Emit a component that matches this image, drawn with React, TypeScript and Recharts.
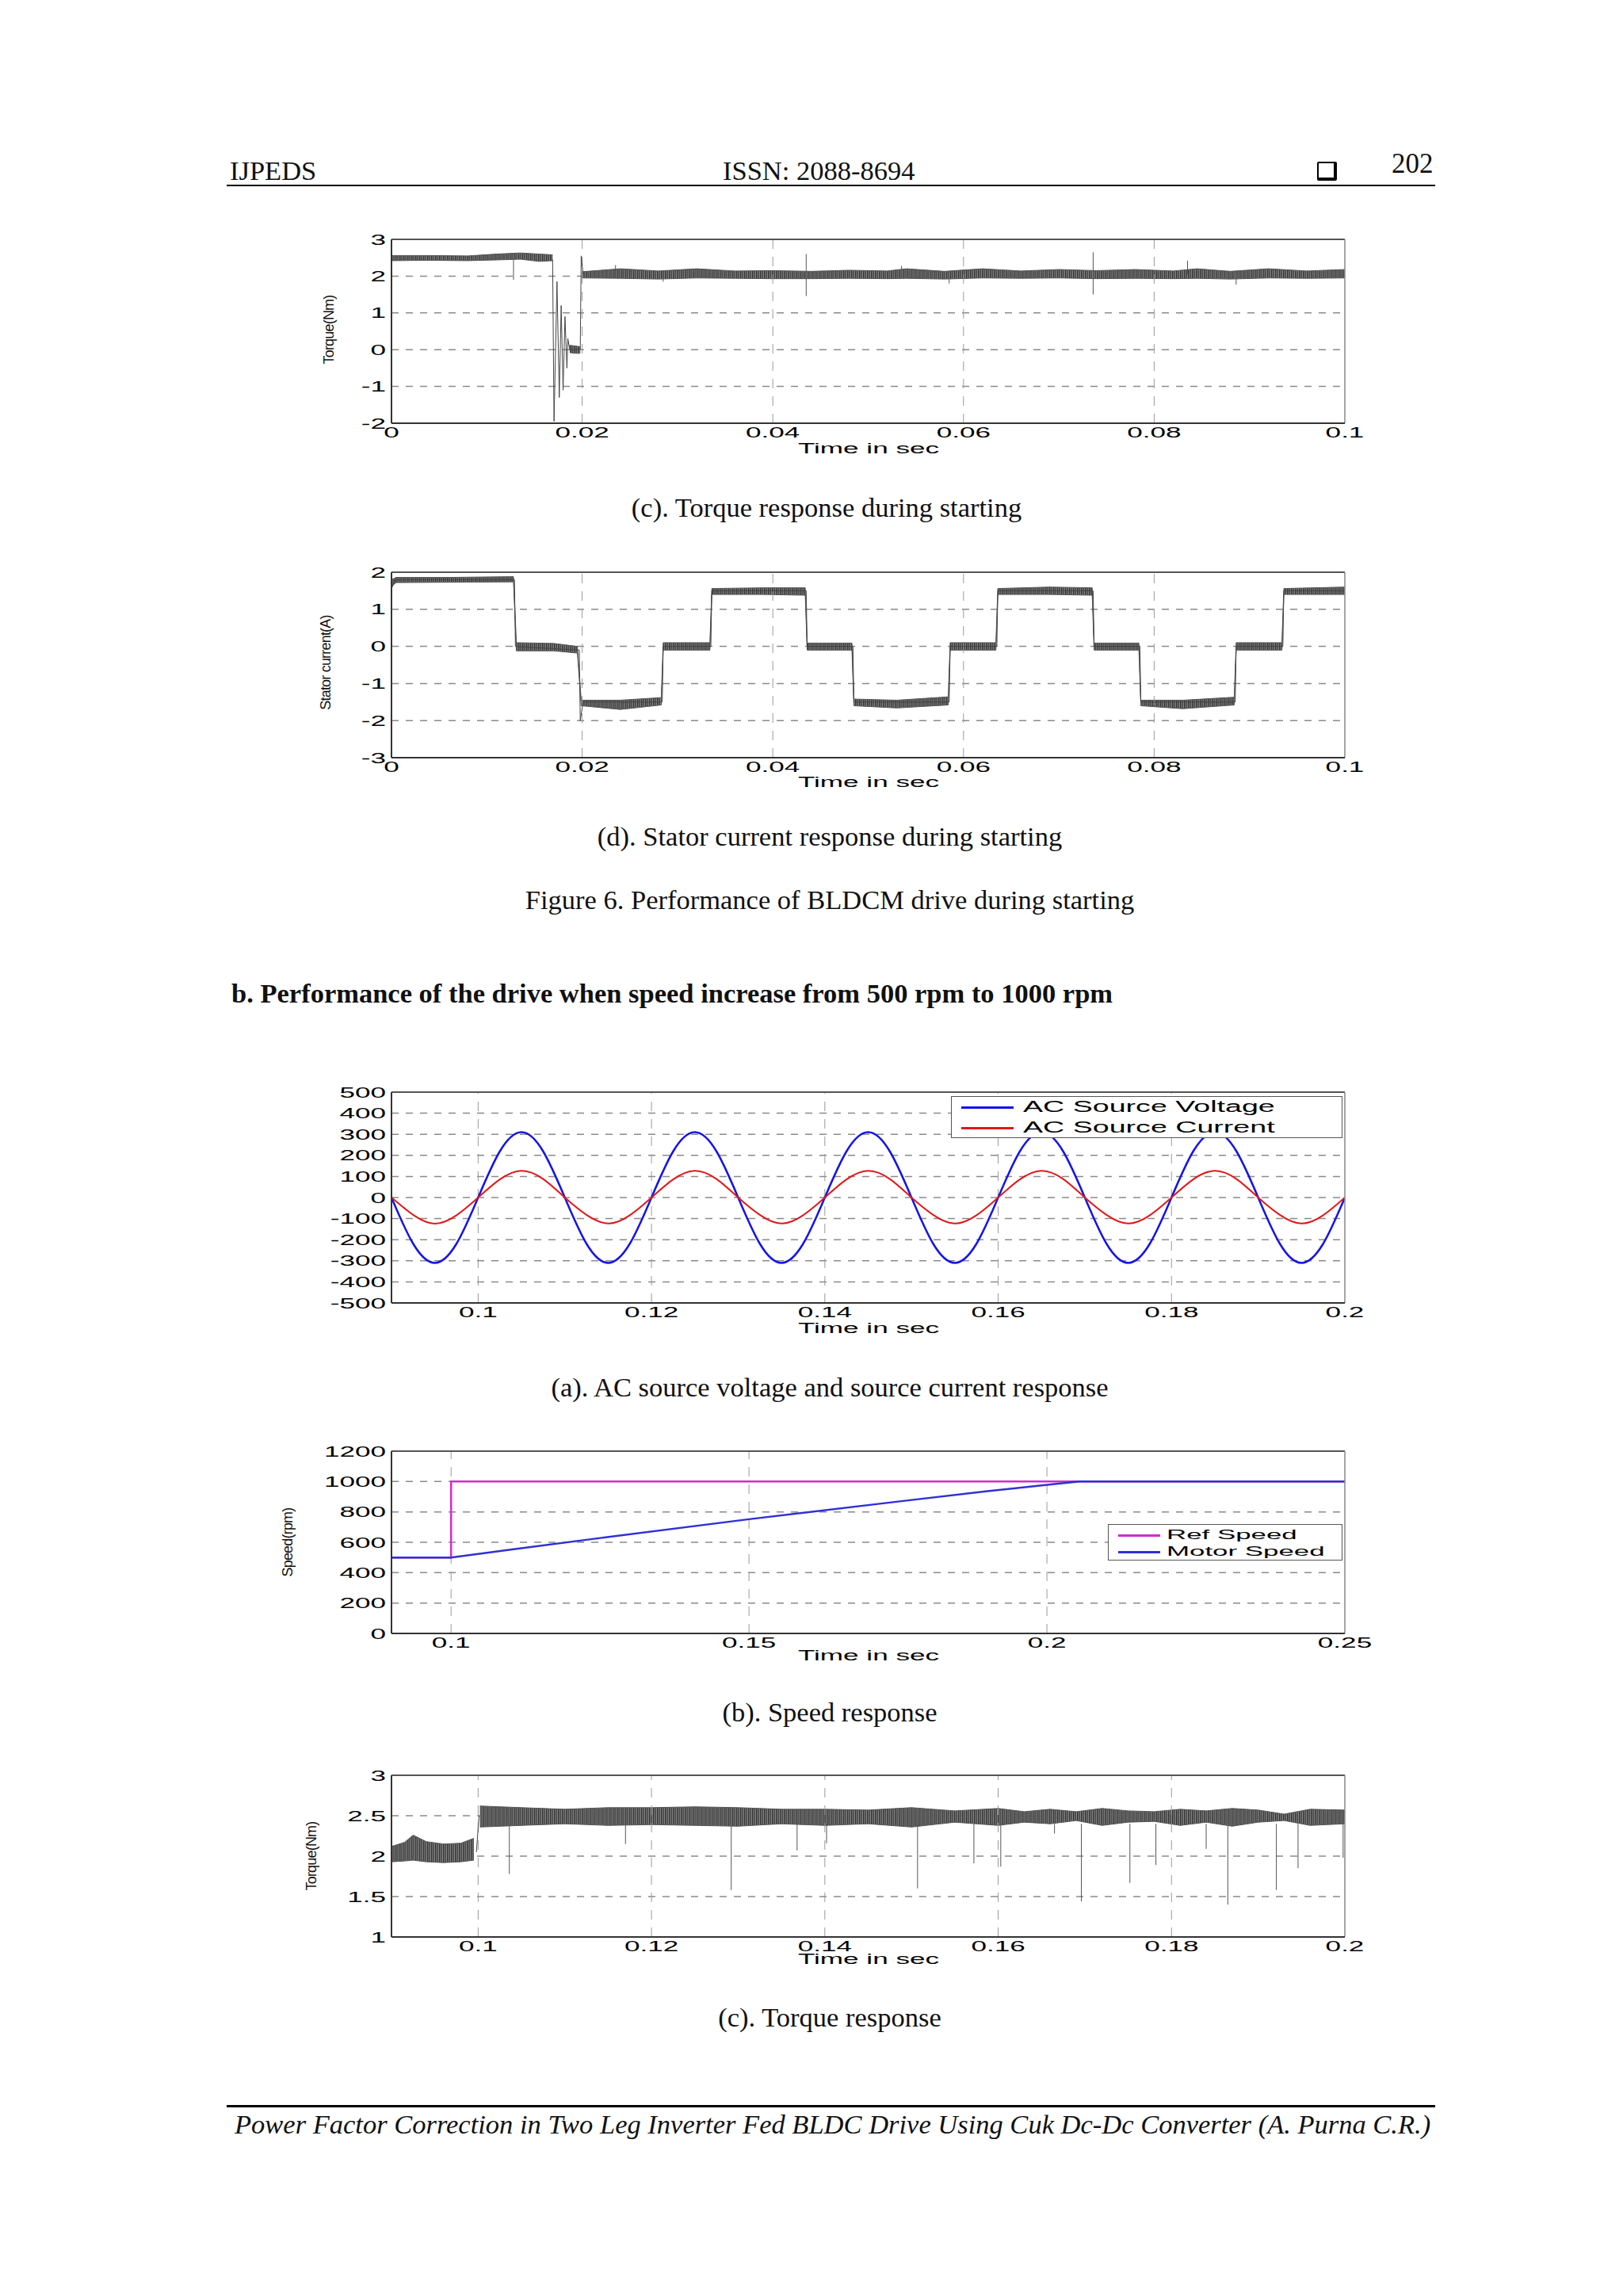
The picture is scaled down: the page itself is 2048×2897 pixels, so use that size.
import React from "react";
import { ComposedChart, Line, Area, XAxis, YAxis, CartesianGrid, ReferenceLine } from "recharts";

// ---------- Fig 6(c): torque during starting ----------
const tqStartXTicks = [0, 0.02, 0.04, 0.06, 0.08, 0.1];
const tqStartYTicks = [-2, -1, 0, 1, 2, 3];
// [t, low, high] of the switching-ripple band
const tqStartBandA = [[0, 2.42, 2.56], [0.004, 2.43, 2.56], [0.008, 2.42, 2.55], [0.011, 2.44, 2.6], [0.0135, 2.46, 2.63], [0.0155, 2.4, 2.6], [0.0169, 2.42, 2.58]];
const tqStartBandB = [[0.0187, -0.08, 0.12], [0.0193, -0.1, 0.1], [0.0198, -0.1, 0.08]];
const tqStartBandC = [
  [0.02, 1.95, 2.12], [0.024, 1.94, 2.2], [0.028, 1.92, 2.14], [0.032, 1.95, 2.2], [0.036, 1.94, 2.14],
  [0.04, 1.93, 2.15], [0.044, 1.93, 2.13], [0.048, 1.94, 2.16], [0.052, 1.93, 2.14], [0.054, 1.94, 2.2],
  [0.058, 1.92, 2.13], [0.062, 1.95, 2.2], [0.066, 1.94, 2.14], [0.07, 1.95, 2.18], [0.074, 1.93, 2.15],
  [0.078, 1.94, 2.18], [0.082, 1.93, 2.14], [0.0845, 1.94, 2.2], [0.088, 1.92, 2.13], [0.092, 1.95, 2.2],
  [0.096, 1.94, 2.14], [0.1, 1.95, 2.18],
];
const tqStartTransient = [
  [0.0169, 2.45], [0.01705, -1.95], [0.01736, 1.85], [0.0176, -1.3], [0.0178, 1.2], [0.018, -1.1],
  [0.0182, 0.9], [0.0184, -0.5], [0.0185, 0.3], [0.0187, 0.0], [0.0198, 0.0], [0.0199, 2.55], [0.0201, 2.05],
];
// [t, from, to]
const tqStartSpikes = [[0.0128, 2.45, 1.9], [0.0235, 2.1, 2.3], [0.0285, 2.0, 1.85], [0.0435, 1.46, 2.6], [0.0535, 2.05, 2.28], [0.0585, 2.0, 1.8], [0.0736, 1.5, 2.65], [0.0835, 2.05, 2.42], [0.0886, 1.77, 2.1]];

// ---------- Fig 6(d): stator current ----------
const statorXTicks = [0, 0.02, 0.04, 0.06, 0.08, 0.1];
const statorYTicks = [-3, -2, -1, 0, 1, 2];
const statorBand = [
  [0, 1.62, 1.8], [0.0005, 1.72, 1.86], [0.006, 1.73, 1.86], [0.0128, 1.74, 1.88],
  [0.0131, -0.12, 0.1], [0.017, -0.12, 0.08], [0.0195, -0.18, 0.0],
  [0.0199, -1.6, -1.45], [0.024, -1.7, -1.45], [0.0283, -1.58, -1.38],
  [0.0285, -0.1, 0.1], [0.0334, -0.1, 0.1],
  [0.0336, 1.4, 1.56], [0.039, 1.4, 1.58], [0.0434, 1.38, 1.58],
  [0.0436, -0.1, 0.09], [0.0483, -0.1, 0.09],
  [0.0485, -1.6, -1.42], [0.053, -1.66, -1.45], [0.0584, -1.58, -1.36],
  [0.0586, -0.1, 0.1], [0.0634, -0.1, 0.1],
  [0.0636, 1.4, 1.56], [0.069, 1.4, 1.6], [0.0735, 1.38, 1.58],
  [0.0737, -0.1, 0.09], [0.0784, -0.1, 0.09],
  [0.0786, -1.6, -1.45], [0.083, -1.68, -1.45], [0.0884, -1.58, -1.37],
  [0.0886, -0.1, 0.1], [0.0934, -0.1, 0.1],
  [0.0936, 1.4, 1.56], [0.1, 1.4, 1.6],
];
const statorTrace = [
  [0, 1.55], [0.0004, 1.8], [0.0129, 1.8], [0.013, 0], [0.0197, -0.1], [0.0198, -2.0], [0.0201, -1.5],
  [0.0284, -1.5], [0.0285, 0], [0.0335, 0], [0.0336, 1.5], [0.0435, 1.5], [0.0436, 0], [0.0484, 0],
  [0.0485, -1.5], [0.0585, -1.5], [0.0586, 0], [0.0635, 0], [0.0636, 1.5], [0.0736, 1.5], [0.0737, 0],
  [0.0785, 0], [0.0786, -1.5], [0.0885, -1.5], [0.0886, 0], [0.0935, 0], [0.0936, 1.5], [0.1, 1.5],
];

// ---------- (a): AC source voltage / current ----------
const acXTicks = [0.1, 0.12, 0.14, 0.16, 0.18, 0.2];
const acYTicks = [-500, -400, -300, -200, -100, 0, 100, 200, 300, 400, 500];
const acTime = [
  0.09, 0.0925, 0.095, 0.0975, 0.1, 0.1025, 0.105, 0.1075, 0.11, 0.1125, 0.115, 0.1175,
  0.12, 0.1225, 0.125, 0.1275, 0.13, 0.1325, 0.135, 0.1375, 0.14, 0.1425, 0.145, 0.1475,
  0.15, 0.1525, 0.155, 0.1575, 0.16, 0.1625, 0.165, 0.1675, 0.17, 0.1725, 0.175, 0.1775,
  0.18, 0.1825, 0.185, 0.1875, 0.19, 0.1925, 0.195, 0.1975, 0.2,
];
const acVoltage = [
  0, -219, -310, -219, 0, 219, 310, 219, 0, -219, -310, -219,
  0, 219, 310, 219, 0, -219, -310, -219, 0, 219, 310, 219,
  0, -219, -310, -219, 0, 219, 310, 219, 0, -219, -310, -219,
  0, 219, 310, 219, 0, -219, -310, -219, 0,
];
const acCurrent = [
  0, -82, -124, -84, 0, 86, 127, 88, 0, -82, -123, -84,
  0, 86, 127, 88, 0, -82, -123, -84, 0, 86, 127, 88,
  0, -82, -123, -84, 0, 86, 127, 88, 0, -82, -123, -84,
  0, 86, 127, 88, 0, -82, -123, -84, 0,
];
const acNames = ["AC Source Voltage", "AC Source Current"];
const acColors = ["#1414e6", "#e01818"];

// ---------- (b): speed ----------
const spXTicks = [0.1, 0.15, 0.2, 0.25];
const spYTicks = [0, 200, 400, 600, 800, 1000, 1200];
const refSpeed = [[0.09, 500], [0.1, 500], [0.1, 1000], [0.25, 1000]];
const motorSpeed = [[0.09, 500], [0.1, 500], [0.11, 552], [0.125, 628], [0.15, 752], [0.175, 868], [0.19, 936], [0.2, 978], [0.2055, 1000], [0.25, 1000]];
const spNames = ["Ref Speed", "Motor Speed"];
const spColors = ["#d02cd0", "#3030d6"];

// ---------- (c): torque ----------
const tqXTicks = [0.1, 0.12, 0.14, 0.16, 0.18, 0.2];
const tqYTicks = [1, 1.5, 2, 2.5, 3];
const tqBandA = [[0.09, 1.93, 2.12], [0.0915, 1.94, 2.17], [0.0925, 1.95, 2.26], [0.094, 1.93, 2.18], [0.096, 1.92, 2.15], [0.098, 1.93, 2.16], [0.0995, 1.95, 2.22]];
const tqBandB = [
  [0.1002, 2.36, 2.62], [0.105, 2.38, 2.6], [0.11, 2.4, 2.58], [0.115, 2.38, 2.6], [0.12, 2.39, 2.6],
  [0.125, 2.38, 2.61], [0.13, 2.37, 2.6], [0.135, 2.4, 2.58], [0.14, 2.38, 2.58], [0.145, 2.4, 2.57],
  [0.15, 2.36, 2.6], [0.155, 2.42, 2.56], [0.16, 2.38, 2.59], [0.163, 2.42, 2.55], [0.166, 2.4, 2.58],
  [0.169, 2.44, 2.55], [0.172, 2.38, 2.59], [0.175, 2.42, 2.56], [0.178, 2.43, 2.55], [0.181, 2.38, 2.58],
  [0.184, 2.42, 2.56], [0.187, 2.37, 2.59], [0.19, 2.42, 2.57], [0.193, 2.44, 2.52], [0.196, 2.38, 2.58],
  [0.2, 2.4, 2.57],
];
const tqStep = [[0.0998, 2.05], [0.1001, 2.5]];
const tqSpikes = [
  [0.1036, 2.4, 1.78], [0.117, 2.4, 2.15], [0.1292, 2.4, 1.58], [0.1368, 2.4, 2.07], [0.1402, 2.4, 2.16],
  [0.1507, 2.4, 1.6], [0.1572, 2.4, 1.91], [0.1603, 2.4, 1.87], [0.1665, 2.4, 2.28], [0.1696, 2.4, 1.44],
  [0.1752, 2.4, 1.67], [0.1782, 2.4, 1.89], [0.184, 2.4, 2.09], [0.1865, 2.4, 1.4], [0.1921, 2.4, 1.58],
  [0.1946, 2.4, 1.85], [0.1998, 2.4, 1.98],
];

const SANS = "'Liberation Sans', Arial, Helvetica, sans-serif";
const SERIF = "'Liberation Serif', 'Times New Roman', serif";
const STRETCH = 1.95;
const PAGE_FONT = 34.5;

const band = (rows: number[][]) => rows.map(([t, lo, hi]) => ({ t, r: [lo, hi] }));
const pts = (rows: number[][]) => rows.map(([t, v]) => ({ t, v }));
const spikes = (rows: number[][]) => rows.flatMap(([t, a, b]) => [{ t, v: a }, { t, v: b }, { t, v: null }]);

const XTick = (p: any) => (
  <g transform={`translate(${p.x},${p.y + 18}) scale(${STRETCH},1)`}>
    <text x={0} y={0} textAnchor="middle" fontFamily={SANS} fontSize={18} fill="#000">{String(p.payload.value)}</text>
  </g>
);
const YTick = (p: any) => (
  <g transform={`translate(${p.x - 7},${p.y + 6.5}) scale(${STRETCH},1)`}>
    <text x={0} y={0} textAnchor="end" fontFamily={SANS} fontSize={18} fill="#000">{String(p.payload.value)}</text>
  </g>
);

function Plot({ left, top, w, h, xDomain, xTicks, yDomain, yTicks, children }: any) {
  const ML = 100, MT = 20;
  return (
    <div style={{ position: "absolute", left: left - ML, top: top - MT }}>
      <ComposedChart width={w + ML + 40} height={h + MT + 50} margin={{ top: MT, right: 40, bottom: 0, left: 0 }}>
        <defs>
          <pattern id="hatch" width="2.5" height="8" patternUnits="userSpaceOnUse">
            <rect width="2.5" height="8" fill="#8c8c8c" />
            <rect width="1.3" height="8" fill="#2e2e2e" />
          </pattern>
        </defs>
        <CartesianGrid vertical={false} stroke="#8a8a8a" strokeWidth={1.5} strokeDasharray="9 9" />
        {xTicks.filter((v: number) => v > xDomain[0] && v < xDomain[1]).map((v: number) => (
          <ReferenceLine key={v} x={v} stroke="#9a9a9a" strokeWidth={1} strokeDasharray="12 10" />
        ))}
        <XAxis type="number" dataKey="t" domain={xDomain} ticks={xTicks} allowDataOverflow height={50} interval={0}
          tickLine={false} tickSize={0} tickMargin={0} axisLine={{ stroke: "#333", strokeWidth: 2 }} tick={(p: any) => <XTick {...p} />} />
        <YAxis type="number" domain={yDomain} ticks={yTicks} allowDataOverflow width={ML} interval={0}
          tickLine={false} tickSize={0} tickMargin={0} axisLine={{ stroke: "#333", strokeWidth: 2 }} tick={(p: any) => <YTick {...p} />} />
        {children}
        <ReferenceLine y={yDomain[1]} stroke="#555" strokeWidth={2} />
        <ReferenceLine x={xDomain[1]} stroke="#888" strokeWidth={1.5} />
      </ComposedChart>
    </div>
  );
}

function Txt({ x, base, size = PAGE_FONT, center, children, style }: any) {
  return (
    <div style={{ position: "absolute", left: x, top: base - 0.84 * size, fontSize: size, lineHeight: 1, whiteSpace: "nowrap",
      fontFamily: SERIF, color: "#111", transform: center ? "translateX(-50%)" : undefined, ...style }}>
      {children}
    </div>
  );
}

function SansTxt({ cx, base, size = 18, scale = STRETCH, children }: any) {
  return (
    <div style={{ position: "absolute", left: cx, top: base - 0.85 * size, fontSize: size, lineHeight: 1, whiteSpace: "nowrap",
      fontFamily: SANS, color: "#000", transform: `translateX(-50%) scaleX(${scale})`, transformOrigin: "center" }}>
      {children}
    </div>
  );
}

function VTitle({ cx, cy, children }: any) {
  return (
    <div style={{ position: "absolute", left: cx, top: cy, fontSize: 18, lineHeight: 1, whiteSpace: "nowrap", fontFamily: SANS,
      color: "#111", letterSpacing: -0.8, transform: "translate(-50%,-50%) rotate(-90deg)" }}>
      {children}
    </div>
  );
}

function LegendBox({ left, top, width, height, names, colors, rowsY, sx0, sx1, tx, size, scale }: any) {
  return (
    <div style={{ position: "absolute", left, top, width, height, background: "#fff", border: "1.5px solid #555", boxSizing: "border-box" }}>
      {names.map((n: string, i: number) => (
        <React.Fragment key={n}>
          <div style={{ position: "absolute", left: sx0 - left, top: rowsY[i] - top - 1, width: sx1 - sx0, height: 2.5, background: colors[i] }} />
          <div style={{ position: "absolute", left: tx - left, top: rowsY[i] - top - 0.55 * size, fontSize: size, lineHeight: 1,
            whiteSpace: "nowrap", fontFamily: SANS, color: "#000", transform: `scaleX(${scale})`, transformOrigin: "left center" }}>{n}</div>
        </React.Fragment>
      ))}
    </div>
  );
}

const L = 494, W = 1203;

export default function App() {
  const acData = acTime.map((t, i) => ({ t, volt: acVoltage[i], cur: acCurrent[i] }));
  return (
    <div style={{ position: "absolute", left: 0, top: 0, width: 2048, height: 2897, background: "#fff", overflow: "hidden" }}>
      {/* header */}
      <Txt x={290} base={227}>IJPEDS</Txt>
      <Txt x={912} base={227}>ISSN: 2088-8694</Txt>
      <div style={{ position: "absolute", left: 1662, top: 204, width: 19, height: 18, border: "2px solid #000", borderRightWidth: 4, borderBottomWidth: 4, borderRadius: 2 }} />
      <Txt x={1756} base={218} size={35}>202</Txt>
      <div style={{ position: "absolute", left: 286, top: 233, width: 1525, height: 2, background: "#000" }} />

      {/* Fig 6(c) */}
      <Plot left={L} top={302} w={W} h={232} xDomain={[0, 0.1]} xTicks={tqStartXTicks} yDomain={[-2, 3]} yTicks={tqStartYTicks}>
        <Area data={band(tqStartBandA)} dataKey="r" type="linear" stroke="#555" strokeWidth={1} fill="url(#hatch)" fillOpacity={1} isAnimationActive={false} />
        <Area data={band(tqStartBandB)} dataKey="r" type="linear" stroke="#555" strokeWidth={1} fill="url(#hatch)" fillOpacity={1} isAnimationActive={false} />
        <Area data={band(tqStartBandC)} dataKey="r" type="linear" stroke="#555" strokeWidth={1} fill="url(#hatch)" fillOpacity={1} isAnimationActive={false} />
        <Line data={pts(tqStartTransient)} dataKey="v" type="linear" stroke="#444" strokeWidth={1} dot={false} isAnimationActive={false} />
        <Line data={spikes(tqStartSpikes)} dataKey="v" type="linear" stroke="#555" strokeWidth={1} dot={false} connectNulls={false} isAnimationActive={false} />
      </Plot>
      <VTitle cx={415} cy={416}>Torque(Nm)</VTitle>
      <SansTxt cx={1096} base={572}>Time in sec</SansTxt>
      <Txt x={1043} base={652} center>(c). Torque response during starting</Txt>

      {/* Fig 6(d) */}
      <Plot left={L} top={722} w={W} h={234} xDomain={[0, 0.1]} xTicks={statorXTicks} yDomain={[-3, 2]} yTicks={statorYTicks}>
        <Line data={pts(statorTrace)} dataKey="v" type="linear" stroke="#444" strokeWidth={1} dot={false} isAnimationActive={false} />
        <Area data={band(statorBand)} dataKey="r" type="linear" stroke="#555" strokeWidth={1} fill="url(#hatch)" fillOpacity={1} isAnimationActive={false} />
      </Plot>
      <VTitle cx={411} cy={836}>Stator current(A)</VTitle>
      <SansTxt cx={1096} base={993}>Time in sec</SansTxt>
      <Txt x={1047} base={1067} center>(d). Stator current response during starting</Txt>

      <Txt x={1047} base={1147} center>Figure 6. Performance of BLDCM drive during starting</Txt>
      <Txt x={292} base={1265} style={{ fontWeight: "bold" }}>b. Performance of the drive when speed increase from 500 rpm to 1000 rpm</Txt>

      {/* (a) AC source */}
      <Plot left={L} top={1378} w={W} h={266} xDomain={[0.09, 0.2]} xTicks={acXTicks} yDomain={[-500, 500]} yTicks={acYTicks}>
        <Line data={acData} dataKey="volt" type="natural" stroke={acColors[0]} strokeWidth={2.5} dot={false} isAnimationActive={false} />
        <Line data={acData} dataKey="cur" type="natural" stroke={acColors[1]} strokeWidth={2} dot={false} isAnimationActive={false} />
      </Plot>
      <LegendBox left={1200} top={1383} width={494} height={53} names={acNames} colors={acColors} rowsY={[1396, 1422]}
        sx0={1212} sx1={1278} tx={1290} size={20} scale={1.88} />
      <SansTxt cx={1096} base={1682}>Time in sec</SansTxt>
      <Txt x={1047} base={1762} center>(a). AC source voltage and source current response</Txt>

      {/* (b) speed */}
      <Plot left={L} top={1831} w={W} h={230} xDomain={[0.09, 0.25]} xTicks={spXTicks} yDomain={[0, 1200]} yTicks={spYTicks}>
        <Line data={pts(refSpeed)} dataKey="v" type="linear" stroke={spColors[0]} strokeWidth={2.5} dot={false} isAnimationActive={false} />
        <Line data={pts(motorSpeed)} dataKey="v" type="linear" stroke={spColors[1]} strokeWidth={2.5} dot={false} isAnimationActive={false} />
      </Plot>
      <LegendBox left={1398} top={1923} width={296} height={46} names={spNames} colors={spColors} rowsY={[1936, 1957]}
        sx0={1410} sx1={1463} tx={1471} size={17} scale={2.05} />
      <VTitle cx={363} cy={1946}>Speed(rpm)</VTitle>
      <SansTxt cx={1096} base={2095}>Time in sec</SansTxt>
      <Txt x={1047} base={2172} center>(b). Speed response</Txt>

      {/* (c) torque */}
      <Plot left={L} top={2240} w={W} h={204} xDomain={[0.09, 0.2]} xTicks={tqXTicks} yDomain={[1, 3]} yTicks={tqYTicks}>
        <Area data={band(tqBandA)} dataKey="r" type="linear" stroke="#555" strokeWidth={1} fill="url(#hatch)" fillOpacity={1} isAnimationActive={false} />
        <Area data={band(tqBandB)} dataKey="r" type="linear" stroke="#555" strokeWidth={1} fill="url(#hatch)" fillOpacity={1} isAnimationActive={false} />
        <Line data={pts(tqStep)} dataKey="v" type="linear" stroke="#444" strokeWidth={1} dot={false} isAnimationActive={false} />
        <Line data={spikes(tqSpikes)} dataKey="v" type="linear" stroke="#555" strokeWidth={1} dot={false} connectNulls={false} isAnimationActive={false} />
      </Plot>
      <VTitle cx={393} cy={2342}>Torque(Nm)</VTitle>
      <SansTxt cx={1096} base={2478}>Time in sec</SansTxt>
      <Txt x={1047} base={2557} center>(c). Torque response</Txt>

      {/* footer */}
      <div style={{ position: "absolute", left: 286, top: 2656, width: 1525, height: 3, background: "#000" }} />
      <Txt x={296} base={2692} style={{ fontStyle: "italic" }}>Power Factor Correction in Two Leg Inverter Fed BLDC Drive Using Cuk Dc-Dc Converter (A. Purna C.R.)</Txt>
    </div>
  );
}
